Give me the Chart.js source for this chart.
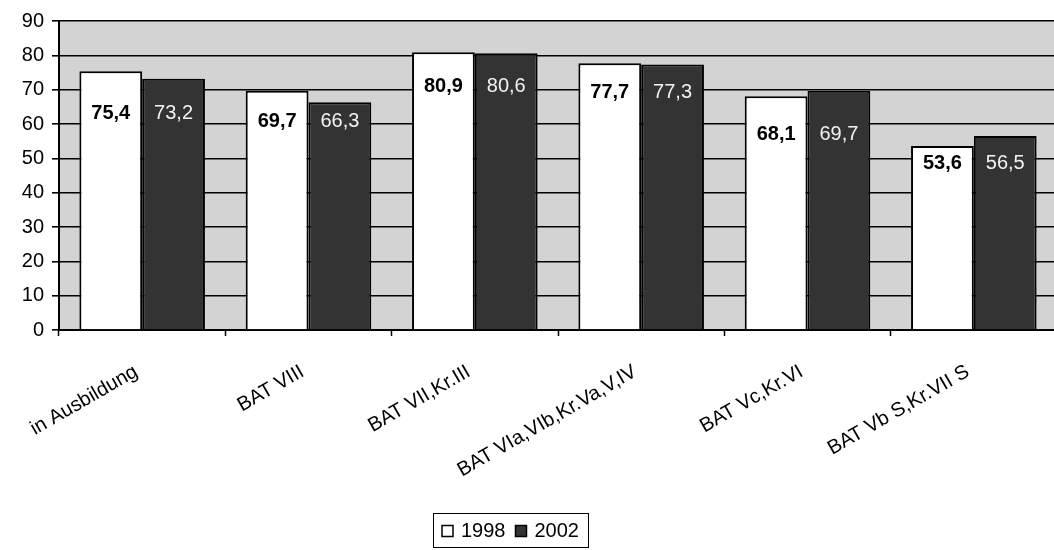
<!DOCTYPE html>
<html>
<head>
<meta charset="utf-8">
<script src="https://cdn.jsdelivr.net/npm/chart.js@4.4.1/dist/chart.umd.min.js"></script>
<style>
  html, body { margin: 0; padding: 0; background: #ffffff; overflow: hidden; }
  #wrap { width: 1054px; height: 550px; overflow: hidden; }
</style>
</head>
<body>
<div id="wrap"><canvas id="c" width="1057" height="550"></canvas></div>
<script>
// Categories and series
const categories = [
  "in Ausbildung",
  "BAT VIII",
  "BAT VII,Kr.III",
  "BAT VIa,VIb,Kr.Va,V,IV",
  "BAT Vc,Kr.VI",
  "BAT Vb S,Kr.VII S"
];
const series1998 = [75.4, 69.7, 80.9, 77.7, 68.1, 53.6];
const series2002 = [73.2, 66.3, 80.6, 77.3, 69.7, 56.5];
const yTicks = [0, 10, 20, 30, 40, 50, 60, 70, 80, 90];

const FONT = "'Liberation Sans', Arial, Helvetica, sans-serif";
const FONT_SIZE = 20;

// Gray plot-area background
const plotBackground = {
  id: 'plotBackground',
  beforeDraw(chart) {
    const { ctx, chartArea: a } = chart;
    ctx.save();
    ctx.fillStyle = '#d3d3d3';
    ctx.fillRect(a.left, a.top, a.right - a.left, a.bottom - a.top);
    ctx.restore();
  }
};

// Value labels inside bars (German decimal comma)
const barValueLabels = {
  id: 'barValueLabels',
  afterDatasetsDraw(chart, args, opts) {
    const { ctx } = chart;
    const yScale = chart.scales.y;
    chart.data.datasets.forEach((ds, di) => {
      const meta = chart.getDatasetMeta(di);
      const st = opts.styles[di];
      meta.data.forEach((bar, i) => {
        const v = ds.data[i];
        const y = yScale.getPixelForValue(opts.anchors[i]);
        ctx.save();
        ctx.font = st.font;
        ctx.fillStyle = st.color;
        ctx.textAlign = 'center';
        ctx.textBaseline = 'middle';
        ctx.fillText(v.toFixed(1).replace('.', ','), bar.x + st.dx, y);
        ctx.restore();
      });
    });
  }
};

// Boxed legend below the axis labels
const boxedLegend = {
  id: 'boxedLegend',
  afterDraw(chart, args, opts) {
    const { ctx } = chart;
    const ds = chart.data.datasets;
    ctx.save();
    ctx.font = FONT_SIZE + 'px ' + FONT;
    ctx.textBaseline = 'middle';
    const sq = 11, gapSq = 8, gapItem = 10, padX = 9;
    let w = padX * 2;
    ds.forEach((d, i) => {
      w += sq + gapSq + ctx.measureText(d.label).width + (i < ds.length - 1 ? gapItem : 0);
    });
    const h = 34;
    const left = Math.round(opts.centerX - w / 2);
    const top = opts.top;
    ctx.strokeStyle = '#000';
    ctx.lineWidth = 1;
    ctx.strokeRect(left + 0.5, top + 0.5, w, h);
    let x = left + padX;
    const cy = top + h / 2 + 1;
    ds.forEach((d, i) => {
      ctx.fillStyle = d.backgroundColor;
      ctx.fillRect(x, cy - sq / 2, sq, sq);
      ctx.lineWidth = 1.5;
      ctx.strokeStyle = '#000';
      ctx.strokeRect(x, cy - sq / 2, sq, sq);
      x += sq + gapSq;
      ctx.fillStyle = '#000';
      ctx.textAlign = 'left';
      ctx.fillText(d.label, x, cy);
      x += ctx.measureText(d.label).width + gapItem;
    });
    ctx.restore();
  }
};

new Chart(document.getElementById('c'), {
  type: 'bar',
  data: {
    labels: categories,
    datasets: [
      {
        label: '1998',
        data: series1998,
        backgroundColor: '#ffffff',
        borderColor: '#000000',
        borderWidth: 2,
        borderSkipped: 'bottom'
      },
      {
        label: '2002',
        data: series2002,
        backgroundColor: '#333333',
        borderColor: '#000000',
        borderWidth: 2,
        borderSkipped: 'bottom'
      }
    ]
  },
  options: {
    responsive: false,
    animation: false,
    devicePixelRatio: 1,
    layout: { padding: { top: 21, right: 0, left: 0, bottom: 0 } },
    datasets: {
      bar: { categoryPercentage: 0.755, barPercentage: 1.0 }
    },
    scales: {
      x: {
        offset: true,
        border: { display: true, color: '#000', width: 2 },
        grid: {
          offset: true,
          drawOnChartArea: false,
          drawTicks: true,
          tickLength: 6,
          tickColor: '#000',
          tickWidth: 1.5
        },
        ticks: {
          color: '#000',
          font: { family: FONT, size: FONT_SIZE },
          minRotation: 30,
          maxRotation: 30,
          autoSkip: false,
          padding: 24,
          labelOffset: -6
        },
        afterFit(scale) { scale.height = 220; }
      },
      y: {
        min: 0,
        max: 90,
        afterBuildTicks(scale) { scale.ticks = yTicks.map(v => ({ value: v })); },
        border: { display: true, color: '#000', width: 2 },
        grid: {
          color: '#000',
          lineWidth: 1.6,
          drawTicks: true,
          tickLength: 7,
          tickColor: '#000'
        },
        ticks: {
          color: '#000',
          font: { family: FONT, size: FONT_SIZE },
          padding: 8
        },
        afterFit(scale) { scale.width = 59; }
      }
    },
    plugins: {
      legend: { display: false },
      tooltip: { enabled: false },
      barValueLabels: {
        anchors: [63.2, 60.6, 70.8, 69.3, 56.9, 48.5],
        styles: [
          { font: 'bold ' + FONT_SIZE + 'px ' + FONT, color: '#000000', dx: 0 },
          { font: FONT_SIZE + 'px ' + FONT, color: '#f2f2f2', dx: 0 }
        ]
      },
      boxedLegend: { top: 513, centerX: 510 }
    }
  },
  plugins: [plotBackground, barValueLabels, boxedLegend]
});
</script>
</body>
</html>
